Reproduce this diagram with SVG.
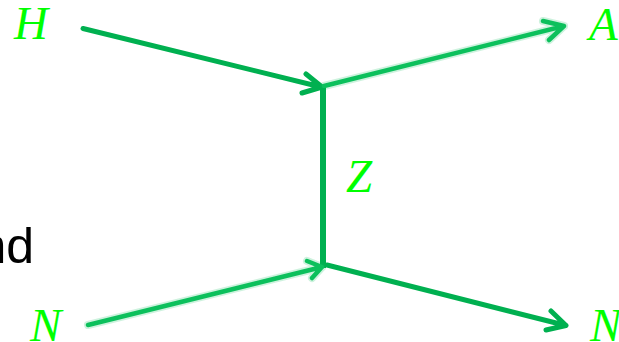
<svg xmlns="http://www.w3.org/2000/svg" width="619" height="342" viewBox="0 0 619 342">
<style>
.l{font-family:"Liberation Serif",serif;font-style:italic;font-size:47px;fill:#00ff00}
.c{fill:none;stroke:#00b050;stroke-width:5;stroke-linecap:round;stroke-linejoin:round}
.v{fill:none;stroke:#00b050;stroke-width:6}
.s{fill:none;stroke:#0cc05c;stroke-width:4.500;stroke-linecap:round;stroke-linejoin:round}
.h{fill:none;stroke:#0cc05c;stroke-width:8;stroke-opacity:.2;stroke-linecap:round;stroke-linejoin:round}
</style>
<rect width="619" height="342" fill="#fff"/>
<text x="34" y="263" text-anchor="end" font-family="'Liberation Sans',Arial,sans-serif" font-size="50" fill="#000">nd</text>
<g id="connectors">
<path class="c" d="M83 28.500L321 87M306 74L322 87L302 93"/>
<path class="h" d="M324 86L564 26M543 21L564 26L549 40"/>
<path class="s" d="M324 86L564 26M543 21L564 26L549 40"/>
<path class="v" d="M323 88V268"/>
<path class="h" d="M88 325L322 267M307 261L322 267L312 278"/>
<path class="s" d="M88 325L322 267M307 261L322 267L312 278"/>
<path class="c" d="M327 265L566 325.500M551 311L566 325.500L546 330"/>
</g>
<g id="node-H"><text class="l" x="14" y="39">H</text></g>
<g id="node-A"><text class="l" x="589" y="40">A</text></g>
<g id="node-Z"><text class="l" x="346" y="192">Z</text></g>
<g id="node-N1"><text class="l" x="30" y="341">N</text></g>
<g id="node-N2"><text class="l" x="590" y="341">N</text></g>
</svg>
